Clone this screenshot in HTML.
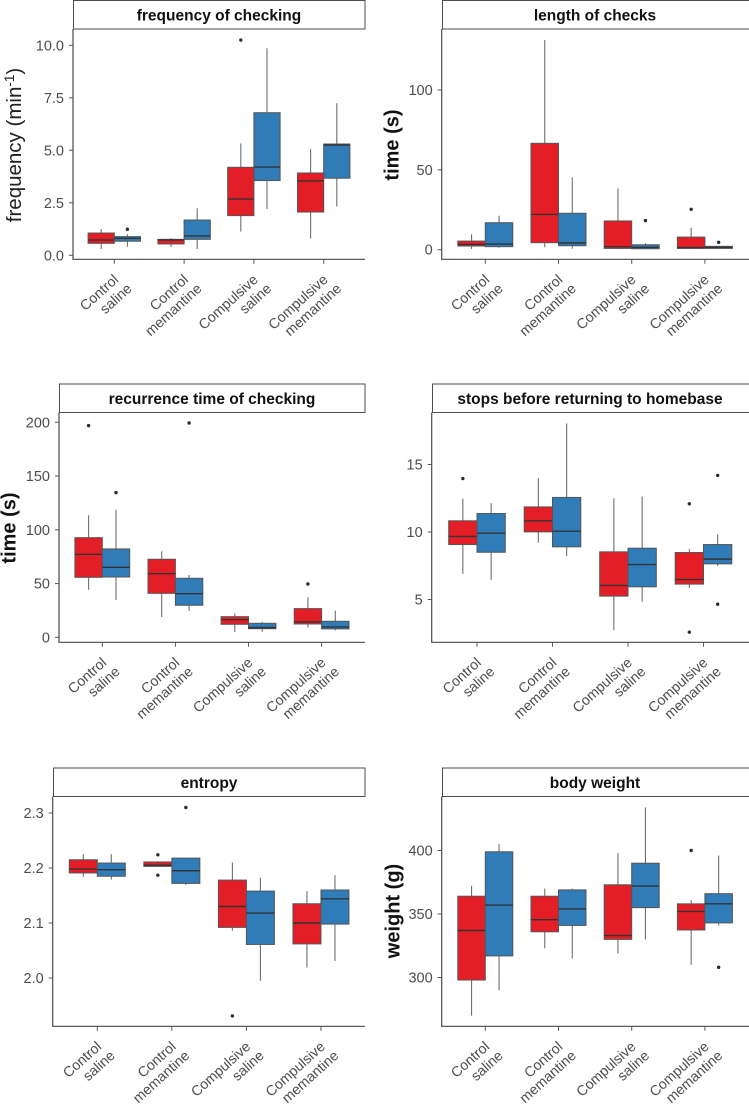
<!DOCTYPE html>
<html lang="en">
<head>
<meta charset="utf-8">
<title>Boxplots of checking behaviour</title>
<style>
html,body{margin:0;padding:0;background:#fff;}
svg{display:block;font-family:"Liberation Sans",Arial,sans-serif;}
.strip{fill:#fff;stroke:#4d4d4d;stroke-width:1;}
.strip-title{font-size:15.5px;font-weight:bold;fill:#111;text-anchor:middle;}
.y-title{font-size:20px;font-weight:bold;fill:#111;text-anchor:middle;}
.y-title-regular{font-weight:normal;font-size:20.5px;fill:#222;}
</style>
</head>
<body>
<svg id="figure" width="749" height="1104" viewBox="0 0 749 1104" xmlns="http://www.w3.org/2000/svg">
  <rect x="0" y="0" width="749" height="1104" fill="#fff"/>

  <rect class="strip" x="73.5" y="0.5" width="291.5" height="28.5"/>
  <text class="strip-title" x="219" y="20.5">frequency of checking</text>
  <text class="y-title y-title-regular" transform="translate(21,145) rotate(-90)">frequency (min<tspan dy="-7" font-size="13.5">-1</tspan><tspan dy="7">)</tspan></text>

  <rect class="strip" x="442.5" y="0.5" width="310" height="28.5"/>
  <text class="strip-title" x="595" y="20.5">length of checks</text>
  <text class="y-title" transform="translate(398.5,145) rotate(-90)">time (s)</text>

  <rect class="strip" x="59.5" y="384" width="305.5" height="28.5"/>
  <text class="strip-title" x="212" y="404">recurrence time of checking</text>
  <text class="y-title" transform="translate(15.5,528) rotate(-90)">time (s)</text>

  <rect class="strip" x="432.5" y="384" width="320" height="28.5"/>
  <text class="strip-title" x="590" y="404">stops before returning to homebase</text>

  <rect class="strip" x="53.5" y="768" width="311.5" height="28.5"/>
  <text class="strip-title" x="209" y="788">entropy</text>

  <rect class="strip" x="442.5" y="768" width="310" height="28.5"/>
  <text class="strip-title" x="595" y="788">body weight</text>
  <text class="y-title" transform="translate(399.5,911) rotate(-90)">weight (g)</text>
</svg>

<script>
// Shared categories. Each box is [lower whisker, Q1, median, Q3, upper whisker].
const categories = [["Control","saline"],["Control","memantine"],["Compulsive","saline"],["Compulsive","memantine"]];

const freqTicks = [0,2.5,5,7.5,10];
const freqTickLabels = ["0.0","2.5","5.0","7.5","10.0"];
const freqRed = [[0.3,0.57,0.73,1.06,1.25],[0.4,0.54,0.73,0.76,0.82],[1.13,1.89,2.68,4.19,5.33],[0.8,2.06,3.54,3.92,5.06]];
const freqBlue = [[0.41,0.67,0.81,0.89,1.0],[0.3,0.76,0.92,1.68,2.24],[2.2,3.56,4.2,6.79,9.86],[2.32,3.67,5.25,5.3,7.24]];
const freqRedOut = [[],[],[10.25],[]];
const freqBlueOut = [[1.24],[],[],[]];

const lengthTicks = [0,50,100];
const lengthTickLabels = ["0","50","100"];
const lengthRed = [[0.4,2.3,3.3,5.4,9.6],[1.5,4.4,22.1,66.6,131.3],[0.4,0.8,1.9,18,38.4],[0.6,0.8,1.3,7.9,13.8]];
const lengthBlue = [[1.2,1.9,3.5,16.9,21.3],[0.6,2.5,4.2,22.8,45.3],[0.4,0.6,1.5,3.1,4],[0.4,0.8,1.5,2.1,2.3]];
const lengthRedOut = [[],[],[],[25.3]];
const lengthBlueOut = [[],[],[18.2],[4.6]];

const recurTicks = [0,50,100,150,200];
const recurTickLabels = ["0","50","100","150","200"];
const recurRed = [[44.3,55.8,77.2,92.7,113.5],[18.9,40.9,59.2,72.6,80],[5,12.1,16.4,19.2,22.3],[9.3,12.4,14.3,26.7,37.2]];
const recurBlue = [[34.7,56.1,65.1,82.2,118.4],[24.5,29.8,40.6,54.9,58],[5.3,8,9,13,14.6],[6.5,7.8,9.6,14.9,24.8]];
const recurRedOut = [[196.9],[],[],[49.6]];
const recurBlueOut = [[134.6],[199.4],[],[]];

const stopsTicks = [5,10,15];
const stopsTickLabels = ["5","10","15"];
const stopsRed = [[6.9,9.07,9.67,10.83,12.46],[9.2,10.01,10.83,11.86,13.99],[2.73,5.25,6.04,8.53,12.5],[5.86,6.14,6.48,8.48,8.73]];
const stopsBlue = [[6.46,8.5,9.91,11.37,12.14],[8.23,8.9,10.06,12.56,18.04],[4.83,5.94,7.59,8.8,12.63],[7.49,7.64,7.99,9.07,9.81]];
const stopsRedOut = [[13.96],[],[],[12.09,2.58]];
const stopsBlueOut = [[],[],[],[14.19,4.65]];

const entropyTicks = [2.0,2.1,2.2,2.3];
const entropyTickLabels = ["2.0","2.1","2.2","2.3"];
const entropyRed = [[2.184,2.191,2.198,2.215,2.225],[2.203,2.203,2.205,2.211,2.212],[2.086,2.092,2.13,2.178,2.21],[2.019,2.062,2.1,2.135,2.158]];
const entropyBlue = [[2.179,2.185,2.197,2.209,2.225],[2.169,2.172,2.195,2.218,2.218],[1.995,2.061,2.118,2.158,2.182],[2.031,2.098,2.144,2.16,2.187]];
const entropyRedOut = [[],[2.224,2.187],[1.931],[]];
const entropyBlueOut = [[],[2.31],[],[]];

const weightTicks = [300,350,400];
const weightTickLabels = ["300","350","400"];
const weightRed = [[270,298,337,364,372],[323,336,345.5,364,370],[319,330,333,373,398],[310,337.4,352,358,361]];
const weightBlue = [[290,317,357,399,405],[315,341,354,369,370],[330,355,372,390,434],[341,343,358,366,396]];
const weightRedOut = [[],[],[],[400]];
const weightBlueOut = [[],[],[],[308]];

const svg = document.getElementById('figure');
const NS = 'http://www.w3.org/2000/svg';
const RED = '#e41e26';
const BLUE = '#2f7cb8';

function make(tag, parent, props) {
  const el = document.createElementNS(NS, tag);
  for (const k in props) el.setAttribute(k, props[k]);
  parent.appendChild(el);
  return el;
}

function drawBox(parent, stats, outliers, x0, w, yScale, fill, label) {
  const g = make('g', parent, {});
  
  
  const cx = x0 + w / 2;

  const whisker = make('line', g, {x1:cx, x2:cx, y1:yScale(stats[0]), y2:yScale(stats[4]), stroke:'#6f6f6f', 'stroke-width':1.1});
  
  

  const top = yScale(stats[3]);
  const bot = yScale(stats[1]);
  const box = make('rect', g, {x:x0, y:top, width:w, height:Math.max(bot - top, 0.5), fill:fill, stroke:'#555', 'stroke-width':1});
  
  

  const med = make('line', g, {x1:x0, x2:x0 + w, y1:yScale(stats[2]), y2:yScale(stats[2]), stroke:'#333', 'stroke-width':1.4});
  
  

  outliers.forEach(function (v) {
    const dot = make('circle', g, {cx:cx, cy:yScale(v), r:1.7, fill:'#2b2b2b'});
    
    
  });
}

function drawPanel(p) {
  const g = make('g', svg, {});
  
  

  const yScale = function (v) { return p.y0 + (p.v0 - v) * p.pxPerUnit; };
  const xScale = function (i) { return p.x0 + i * p.step; };

  for (let i = 0; i < p.red.length; i++) {
    const cx = xScale(i);
    drawBox(g, p.red[i], p.redOut[i], cx - p.boxW, p.boxW, yScale, RED, p.name + '-box-red-' + (i + 1));
    drawBox(g, p.blue[i], p.blueOut[i], cx, p.boxW, yScale, BLUE, p.name + '-box-blue-' + (i + 1));
  }

  const yAxis = make('line', g, {x1:p.left, x2:p.left, y1:p.top, y2:p.bottom, stroke:'#4a4a4a', 'stroke-width':1.2});
  
  
  const xAxis = make('line', g, {x1:p.left - 0.6, x2:p.right, y1:p.bottom, y2:p.bottom, stroke:'#4a4a4a', 'stroke-width':1.2});
  
  

  p.ticks.forEach(function (v, i) {
    const y = yScale(v);
    const tick = make('line', g, {x1:p.left - 4, x2:p.left, y1:y, y2:y, stroke:'#555', 'stroke-width':1});
    
    
    const lab = make('text', g, {x:p.left - 9, y:y + 5, 'text-anchor':'end', 'font-size':14.5, fill:'#4d4d4d'});
    lab.textContent = p.tickLabels[i];
    
    
  });

  categories.forEach(function (lines, i) {
    const cx = xScale(i);
    const tick = make('line', g, {x1:cx, x2:cx, y1:p.bottom, y2:p.bottom + 4.5, stroke:'#555', 'stroke-width':1});
    
    
    lines.forEach(function (line, j) {
      const tx = cx + 5 + j * 13.5;
      const ty = p.bottom + 21.5 + j * 9;
      const lab = make('text', g, {transform:'translate(' + tx + ',' + ty + ') rotate(-42)', 'text-anchor':'end', 'font-size':14.2, fill:'#4d4d4d'});
      lab.textContent = line;
      
      
    });
  });
}

drawPanel({name:'frequency', left:73, right:365, top:29, bottom:259.3, x0:114.3, step:69.8, boxW:26.2,
  v0:0, y0:255.3, pxPerUnit:21, ticks:freqTicks, tickLabels:freqTickLabels,
  red:freqRed, blue:freqBlue, redOut:freqRedOut, blueOut:freqBlueOut});
drawPanel({name:'length', left:441.7, right:749, top:29, bottom:259.3, x0:485.3, step:73.2, boxW:27.5,
  v0:0, y0:249.7, pxPerUnit:1.597, ticks:lengthTicks, tickLabels:lengthTickLabels,
  red:lengthRed, blue:lengthBlue, redOut:lengthRedOut, blueOut:lengthBlueOut});
drawPanel({name:'recurrence', left:59, right:365, top:412.5, bottom:642.3, x0:102.3, step:73.1, boxW:27.4,
  v0:0, y0:637.3, pxPerUnit:1.075, ticks:recurTicks, tickLabels:recurTickLabels,
  red:recurRed, blue:recurBlue, redOut:recurRedOut, blueOut:recurBlueOut});
drawPanel({name:'stops', left:431.7, right:749, top:412.5, bottom:642.3, x0:477, step:75.5, boxW:28.3,
  v0:10, y0:532, pxPerUnit:13.5, ticks:stopsTicks, tickLabels:stopsTickLabels,
  red:stopsRed, blue:stopsBlue, redOut:stopsRedOut, blueOut:stopsBlueOut});
drawPanel({name:'entropy', left:52.7, right:365, top:796.5, bottom:1026.3, x0:97.3, step:74.55, boxW:28,
  v0:2.0, y0:978, pxPerUnit:550, ticks:entropyTicks, tickLabels:entropyTickLabels,
  red:entropyRed, blue:entropyBlue, redOut:entropyRedOut, blueOut:entropyBlueOut});
drawPanel({name:'weight', left:441.7, right:749, top:796.5, bottom:1026.3, x0:485.3, step:73.2, boxW:27.5,
  v0:350, y0:914, pxPerUnit:1.27, ticks:weightTicks, tickLabels:weightTickLabels,
  red:weightRed, blue:weightBlue, redOut:weightRedOut, blueOut:weightBlueOut});
</script>
</body>
</html>
